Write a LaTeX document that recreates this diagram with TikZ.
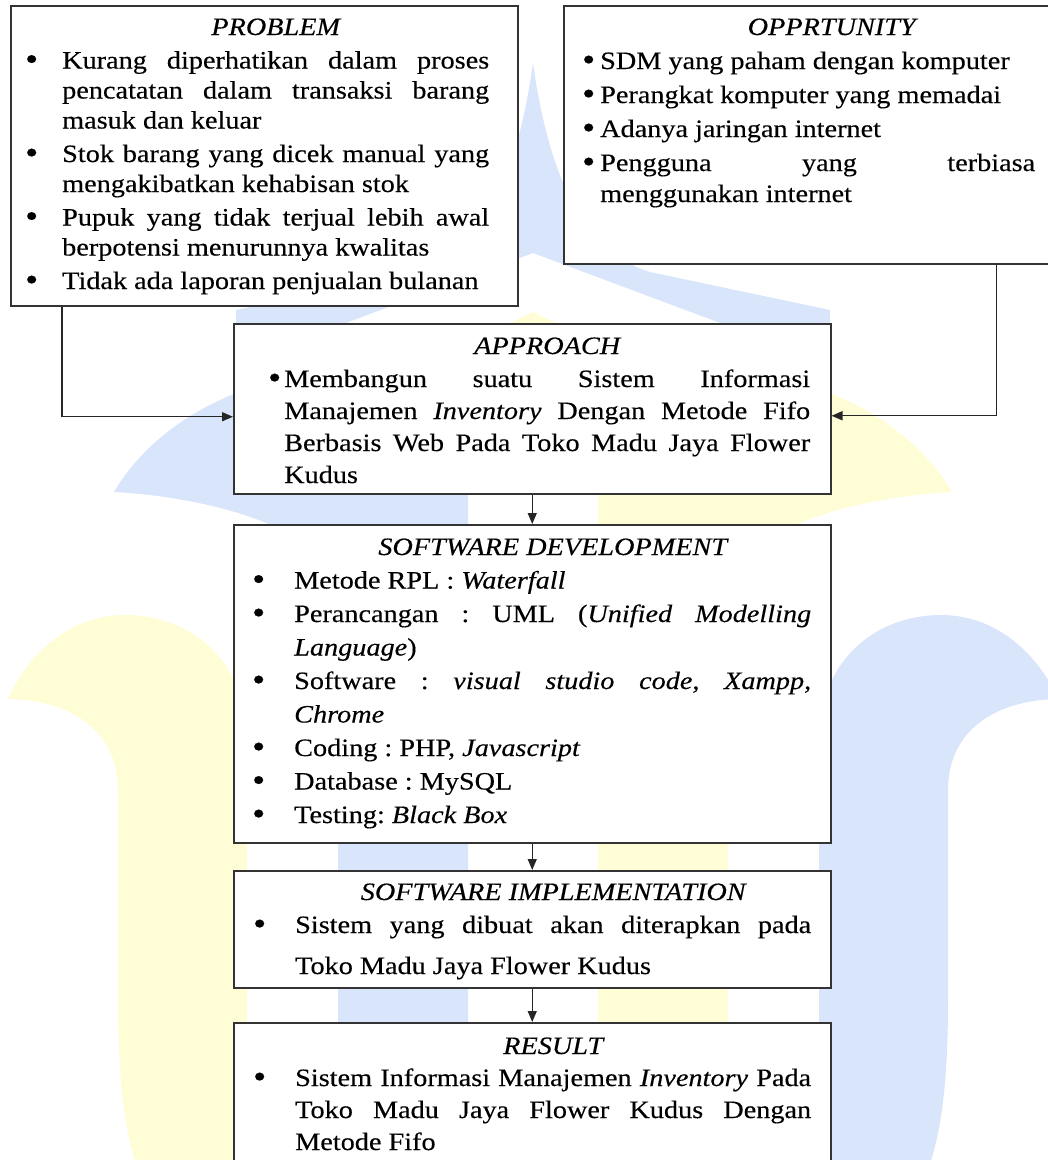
\documentclass[tikz,border=0pt]{standalone}
\usepackage{fontspec}
\setmainfont{Liberation Serif}[FakeStretch=1.13,FakeBold=0.3]
\usetikzlibrary{arrows.meta}
\definecolor{logoblue}{RGB}{216,229,250}
\definecolor{logoyellow}{RGB}{255,253,214}
\newlength{\itmsep}
\newcommand{\boxfont}{\fontsize{25}{30}\selectfont\frenchspacing\hyphenpenalty=10000\relax}
\newcommand{\itm}[1]{\par\vspace{\itmsep}\noindent\llap{\raisebox{-1.5pt}{\fontsize{33}{30}\selectfont\textbullet}\hspace{#1}}}
\newcommand{\ttl}[1]{{\centering\itshape #1\par}}
\tikzset{
  frame/.style={draw=black!80, line width=1.5pt, fill=white, anchor=north west, inner sep=0pt},
  txt/.style={anchor=base west, inner sep=0pt, align=justify, font=\boxfont},
  conn/.style={draw=black!85, line width=1.4pt, -{Triangle[length=11pt,width=9pt]}}
}

\begin{document}
\begin{tikzpicture}[x=1pt,y=-1pt]
		\useasboundingbox (0,0) rectangle (1048,1160);
		\fill[logoblue] (533,63) .. controls (548,170) and (580,250) .. (650,272) -- (830,310) -- (830,364) -- (533,253) -- (236,364) -- (236,310) -- (416,272) .. controls (486,250) and (518,170) .. (533,63) -- cycle;
		\fill[logoyellow] (533,312) -- (760,420) -- (306,420) -- cycle;
		\fill[logoblue] (468,1170) -- (468,460) .. controls (468,400) and (400,370) .. (320,375) .. controls (230,380) and (150,430) .. (114,492) .. controls (180,495) and (338,520) .. (338,600) -- (338,1170) -- cycle;
		\fill[logoyellow] (598,1170) -- (598,460) .. controls (598,400) and (666,370) .. (746,375) .. controls (836,380) and (916,430) .. (952,492) .. controls (886,495) and (728,520) .. (728,600) -- (728,1170) -- cycle;
		\fill[logoyellow] (247,1170) -- (247,740) .. controls (247,660) and (190,615) .. (125,615) .. controls (65,615) and (25,660) .. (8,699) .. controls (70,700) and (118,730) .. (118,790) -- (118,1000) .. controls (118,1100) and (128,1140) .. (138,1170) -- cycle;
		\fill[logoblue] (819,1170) -- (819,740) .. controls (819,660) and (876,615) .. (941,615) .. controls (1001,615) and (1041,660) .. (1058,699) .. controls (996,700) and (948,730) .. (948,790) -- (948,1000) .. controls (948,1100) and (938,1140) .. (928,1170) -- cycle;

		\node[frame, minimum width=507pt, minimum height=300pt] (problem) at (10,5) {};
		\node[frame, minimum width=493pt, minimum height=258pt] (opp) at (563,5) {};
		\node[frame, minimum width=597pt, minimum height=170pt] (approach) at (233,323) {};
		\node[frame, minimum width=597pt, minimum height=318pt] (develop) at (233,524) {};
		\node[frame, minimum width=597pt, minimum height=117pt] (implement) at (233,870) {};
		\node[frame, minimum width=597pt, minimum height=153pt] (result) at (233,1022) {};

		\node[txt, text width=427pt] (problemtxt) at (62,35) {\setlength{\itmsep}{3.5pt}\ttl{PROBLEM}%
			\itm{24pt}Kurang diperhatikan dalam proses\linebreak pencatatan dalam transaksi barang\linebreak masuk dan keluar
			\itm{24pt}Stok~barang~yang~dicek~manual~yang\linebreak mengakibatkan kehabisan stok
			\itm{24pt}Pupuk yang tidak terjual lebih awal\linebreak berpotensi menurunnya kwalitas
			\itm{24pt}Tidak~ada~laporan~penjualan~bulanan\par};
		\node[txt, text width=435pt] (opptxt) at (600,35) {\setlength{\baselineskip}{31pt}\setlength{\itmsep}{3pt}\ttl{\hspace*{28pt}OPPRTUNITY}%
			\itm{5pt}SDM yang paham dengan komputer
			\itm{5pt}Perangkat komputer yang memadai
			\itm{5pt}Adanya jaringan internet
			\itm{5pt}Pengguna yang terbiasa\linebreak menggunakan internet\par};
		\node[txt, text width=526pt] (approachtxt) at (284,354) {\setlength{\baselineskip}{32pt}\setlength{\itmsep}{1pt}\ttl{APPROACH}%
			\itm{3pt}Membangun suatu Sistem Informasi\linebreak Manajemen~\textit{Inventory}~Dengan~Metode~Fifo\linebreak Berbasis~Web~Pada~Toko~Madu~Jaya~Flower\linebreak Kudus\par};
		\node[txt, text width=517pt] (developtxt) at (294,555) {\setlength{\baselineskip}{33.5pt}\setlength{\itmsep}{0pt}\ttl{SOFTWARE DEVELOPMENT}%
			\itm{29pt}Metode RPL : \textit{Waterfall}
			\itm{29pt}Perancangan : UML (\textit{Unified Modelling}\linebreak \textit{Language})
			\itm{29pt}Software : \textit{visual studio code, Xampp,}\linebreak \textit{Chrome}
			\itm{29pt}Coding : PHP, \textit{Javascript}
			\itm{29pt}Database : MySQL
			\itm{29pt}Testing: \textit{Black Box}\par};
		\node[txt, text width=516pt] (implementtxt) at (295,900) {\setlength{\baselineskip}{41pt}\setlength{\itmsep}{-8pt}\ttl{SOFTWARE IMPLEMENTATION}%
			\itm{29pt}Sistem yang dibuat akan diterapkan pada\linebreak Toko Madu Jaya Flower Kudus\par};
		\node[txt, text width=516pt] (resulttxt) at (295,1054) {\setlength{\baselineskip}{32pt}\setlength{\itmsep}{0pt}\ttl{RESULT}%
			\itm{29pt}Sistem~Informasi~Manajemen~\textit{Inventory}~Pada\linebreak Toko Madu Jaya Flower Kudus Dengan\linebreak Metode Fifo\par};

		\draw[conn] ([xshift=52pt]problem.south west) |- ([yshift=-8pt]approach.west);
		\draw[conn] ([xshift=-61pt]opp.south east) |- ([yshift=-7pt]approach.east);
		\draw[conn] (approach) -- (develop);
		\draw[conn] (develop) -- (implement);
		\draw[conn] (implement) -- (result);
\end{tikzpicture}
\end{document}
